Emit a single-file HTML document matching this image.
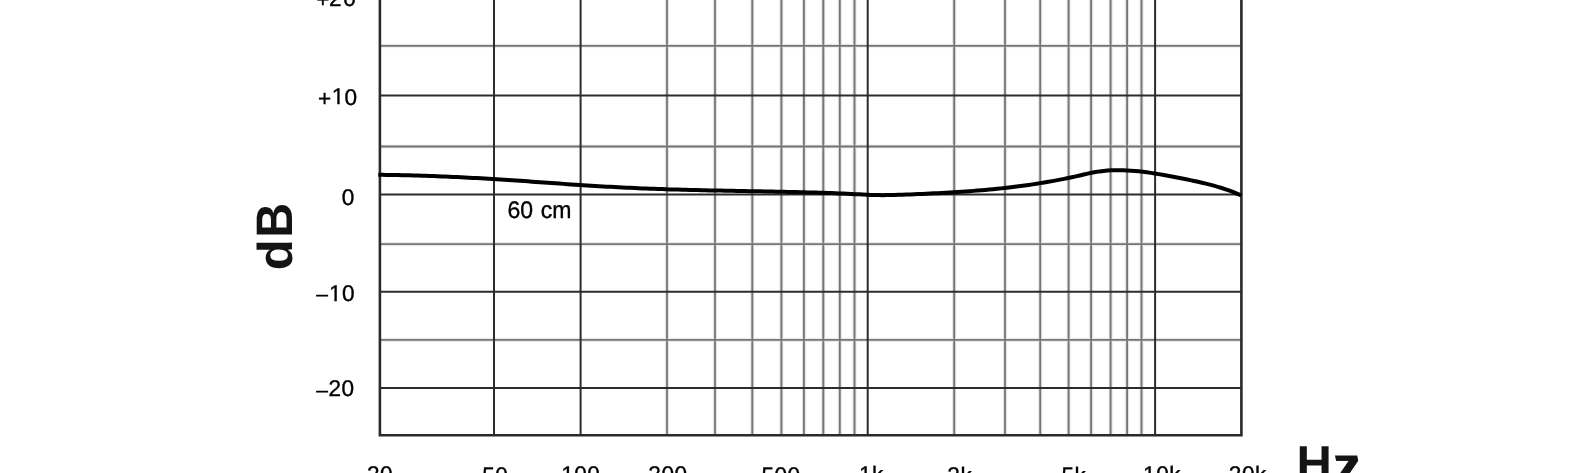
<!DOCTYPE html>
<html><head><meta charset="utf-8"><title>Frequency response</title><style>
html,body{margin:0;padding:0;background:#fff;width:1580px;height:473px;overflow:hidden}
svg{position:absolute;left:0;top:0;display:block}
text{font-family:"Liberation Sans",sans-serif;text-rendering:geometricPrecision}
</style></head><body>
<svg width="1580" height="473" viewBox="0 0 1580 473">
<defs><filter id="gs" x="-2%" y="-2%" width="104%" height="104%"><feOffset dx="0" dy="0"/></filter>
<clipPath id="c1"><path clip-rule="evenodd" d="M0 -20H1580V500H0Z M332.52 101.96H337.28V105.00H332.52Z M339.67 101.96H344.46V105.00H339.67Z"/></clipPath>
<clipPath id="c2"><path clip-rule="evenodd" d="M0 -20H1580V500H0Z M329.62 298.96H334.38V302.00H329.62Z M336.77 298.96H341.56V302.00H336.77Z"/></clipPath></defs>
<g fill="none">
<path d="M667.00 -10V435.30" stroke="#f5f5f5" stroke-width="4.6"/>
<path d="M667.00 -10V435.30" stroke="#ddd" stroke-width="3.4"/>
<path d="M715.00 -10V435.30" stroke="#f5f5f5" stroke-width="4.6"/>
<path d="M715.00 -10V435.30" stroke="#ddd" stroke-width="3.4"/>
<path d="M752.30 -10V435.30" stroke="#f5f5f5" stroke-width="4.6"/>
<path d="M752.30 -10V435.30" stroke="#ddd" stroke-width="3.4"/>
<path d="M781.40 -10V435.30" stroke="#f5f5f5" stroke-width="4.6"/>
<path d="M781.40 -10V435.30" stroke="#ddd" stroke-width="3.4"/>
<path d="M803.90 -10V435.30" stroke="#f5f5f5" stroke-width="4.6"/>
<path d="M803.90 -10V435.30" stroke="#ddd" stroke-width="3.4"/>
<path d="M823.30 -10V435.30" stroke="#f5f5f5" stroke-width="4.6"/>
<path d="M823.30 -10V435.30" stroke="#ddd" stroke-width="3.4"/>
<path d="M839.80 -10V435.30" stroke="#f5f5f5" stroke-width="4.6"/>
<path d="M839.80 -10V435.30" stroke="#ddd" stroke-width="3.4"/>
<path d="M854.50 -10V435.30" stroke="#f5f5f5" stroke-width="4.6"/>
<path d="M854.50 -10V435.30" stroke="#ddd" stroke-width="3.4"/>
<path d="M954.20 -10V435.30" stroke="#f5f5f5" stroke-width="4.6"/>
<path d="M954.20 -10V435.30" stroke="#ddd" stroke-width="3.4"/>
<path d="M1005.00 -10V435.30" stroke="#f5f5f5" stroke-width="4.6"/>
<path d="M1005.00 -10V435.30" stroke="#ddd" stroke-width="3.4"/>
<path d="M1040.20 -10V435.30" stroke="#f5f5f5" stroke-width="4.6"/>
<path d="M1040.20 -10V435.30" stroke="#ddd" stroke-width="3.4"/>
<path d="M1068.60 -10V435.30" stroke="#f5f5f5" stroke-width="4.6"/>
<path d="M1068.60 -10V435.30" stroke="#ddd" stroke-width="3.4"/>
<path d="M1091.10 -10V435.30" stroke="#f5f5f5" stroke-width="4.6"/>
<path d="M1091.10 -10V435.30" stroke="#ddd" stroke-width="3.4"/>
<path d="M1110.60 -10V435.30" stroke="#f5f5f5" stroke-width="4.6"/>
<path d="M1110.60 -10V435.30" stroke="#ddd" stroke-width="3.4"/>
<path d="M1127.10 -10V435.30" stroke="#f5f5f5" stroke-width="4.6"/>
<path d="M1127.10 -10V435.30" stroke="#ddd" stroke-width="3.4"/>
<path d="M1141.50 -10V435.30" stroke="#f5f5f5" stroke-width="4.6"/>
<path d="M1141.50 -10V435.30" stroke="#ddd" stroke-width="3.4"/>
<path d="M379.90 45.80H1241.40" stroke="#f6f6f6" stroke-width="4.8"/>
<path d="M379.90 45.80H1241.40" stroke="#e2e2e2" stroke-width="3.0"/>
<path d="M379.90 146.50H1241.40" stroke="#f6f6f6" stroke-width="4.8"/>
<path d="M379.90 146.50H1241.40" stroke="#e2e2e2" stroke-width="3.0"/>
<path d="M379.90 244.10H1241.40" stroke="#f6f6f6" stroke-width="4.8"/>
<path d="M379.90 244.10H1241.40" stroke="#e2e2e2" stroke-width="3.0"/>
<path d="M379.90 339.90H1241.40" stroke="#f6f6f6" stroke-width="4.8"/>
<path d="M379.90 339.90H1241.40" stroke="#e2e2e2" stroke-width="3.0"/>
<path d="M667.00 -10V435.30" stroke="#767676" stroke-width="1.80"/>
<path d="M715.00 -10V435.30" stroke="#767676" stroke-width="1.80"/>
<path d="M752.30 -10V435.30" stroke="#767676" stroke-width="1.80"/>
<path d="M781.40 -10V435.30" stroke="#767676" stroke-width="1.80"/>
<path d="M803.90 -10V435.30" stroke="#767676" stroke-width="1.80"/>
<path d="M823.30 -10V435.30" stroke="#767676" stroke-width="1.80"/>
<path d="M839.80 -10V435.30" stroke="#767676" stroke-width="1.80"/>
<path d="M854.50 -10V435.30" stroke="#767676" stroke-width="1.80"/>
<path d="M954.20 -10V435.30" stroke="#767676" stroke-width="1.80"/>
<path d="M1005.00 -10V435.30" stroke="#767676" stroke-width="1.80"/>
<path d="M1040.20 -10V435.30" stroke="#767676" stroke-width="1.80"/>
<path d="M1068.60 -10V435.30" stroke="#767676" stroke-width="1.80"/>
<path d="M1091.10 -10V435.30" stroke="#767676" stroke-width="1.80"/>
<path d="M1110.60 -10V435.30" stroke="#767676" stroke-width="1.80"/>
<path d="M1127.10 -10V435.30" stroke="#767676" stroke-width="1.80"/>
<path d="M1141.50 -10V435.30" stroke="#767676" stroke-width="1.80"/>
<path d="M379.90 45.80H1241.40" stroke="#767676" stroke-width="1.80"/>
<path d="M379.90 146.50H1241.40" stroke="#767676" stroke-width="1.80"/>
<path d="M379.90 244.10H1241.40" stroke="#767676" stroke-width="1.80"/>
<path d="M379.90 339.90H1241.40" stroke="#767676" stroke-width="1.80"/>
<path d="M494.00 -10V435.30" stroke="#2c2c2c" stroke-width="2.00"/>
<path d="M580.60 -10V435.30" stroke="#2c2c2c" stroke-width="2.00"/>
<path d="M867.70 -10V435.30" stroke="#2c2c2c" stroke-width="2.00"/>
<path d="M1155.10 -10V435.30" stroke="#2c2c2c" stroke-width="2.00"/>
<path d="M379.90 95.50H1241.40" stroke="#2c2c2c" stroke-width="2.00"/>
<path d="M379.90 194.40H1241.40" stroke="#2c2c2c" stroke-width="2.00"/>
<path d="M379.90 291.70H1241.40" stroke="#2c2c2c" stroke-width="2.00"/>
<path d="M379.90 388.00H1241.40" stroke="#2c2c2c" stroke-width="2.00"/>
<path d="M379.90 -10V435.30H1241.40V-10" stroke="#2a2a2a" stroke-width="2.60"/>
</g>
<path d="M378.3 174.80 382.2 174.85 386.2 174.90 390.1 174.96 394.1 175.03 398.0 175.10 401.9 175.19 405.9 175.28 409.8 175.37 413.8 175.48 417.7 175.59 421.7 175.71 425.6 175.84 429.5 175.97 433.5 176.11 437.4 176.26 441.4 176.41 445.3 176.57 449.2 176.74 453.2 176.92 457.1 177.10 461.1 177.29 465.0 177.48 468.9 177.68 472.9 177.89 476.8 178.10 480.8 178.32 484.7 178.54 488.7 178.78 492.6 179.01 496.5 179.26 500.5 179.51 504.4 179.76 508.4 180.02 512.3 180.28 516.2 180.55 520.2 180.82 524.1 181.09 528.1 181.37 532.0 181.65 535.9 181.93 539.9 182.21 543.8 182.49 547.8 182.77 551.7 183.05 555.6 183.33 559.6 183.60 563.5 183.88 567.5 184.15 571.4 184.42 575.4 184.69 579.3 184.95 583.2 185.21 587.2 185.47 591.1 185.72 595.1 185.96 599.0 186.20 602.9 186.43 606.9 186.65 610.8 186.87 614.8 187.08 618.7 187.29 622.6 187.48 626.6 187.67 630.5 187.86 634.5 188.04 638.4 188.21 642.4 188.38 646.3 188.54 650.2 188.69 654.2 188.84 658.1 188.98 662.1 189.12 666.0 189.25 669.9 189.38 673.9 189.50 677.8 189.61 681.8 189.72 685.7 189.83 689.6 189.93 693.6 190.03 697.5 190.12 701.5 190.21 705.4 190.30 709.4 190.38 713.3 190.46 717.2 190.54 721.2 190.62 725.1 190.70 729.1 190.77 733.0 190.84 736.9 190.92 740.9 190.99 744.8 191.06 748.8 191.13 752.7 191.20 756.6 191.27 760.6 191.34 764.5 191.42 768.5 191.49 772.4 191.57 776.4 191.65 780.3 191.73 784.2 191.81 788.2 191.90 792.1 191.99 796.1 192.08 800.0 192.18 803.9 192.28 807.9 192.38 811.8 192.49 815.8 192.60 819.7 192.72 823.6 192.84 827.6 192.97 831.5 193.11 835.5 193.25 839.4 193.41 843.3 193.57 847.3 193.75 851.2 193.94 855.2 194.14 859.1 194.35 863.1 194.55 867.0 194.73 870.9 194.89 874.9 195.01 878.8 195.10 882.8 195.14 886.7 195.12 890.6 195.07 894.6 194.98 898.5 194.87 902.5 194.73 906.4 194.57 910.3 194.41 914.3 194.24 918.2 194.07 922.2 193.90 926.1 193.71 930.1 193.53 934.0 193.33 937.9 193.13 941.9 192.92 945.8 192.70 949.8 192.48 953.7 192.24 957.6 191.99 961.6 191.73 965.5 191.46 969.5 191.18 973.4 190.88 977.3 190.57 981.3 190.25 985.2 189.91 989.2 189.55 993.1 189.17 997.1 188.78 1001.0 188.37 1004.9 187.95 1008.9 187.50 1012.8 187.03 1016.8 186.54 1020.7 186.03 1024.6 185.50 1028.6 184.95 1032.5 184.37 1036.5 183.77 1040.4 183.14 1044.3 182.49 1048.3 181.81 1052.2 181.11 1056.2 180.38 1060.1 179.62 1064.1 178.84 1068.0 178.03 1071.9 177.20 1075.9 176.34 1079.8 175.46 1083.8 174.55 1087.7 173.66 1091.6 172.81 1095.6 172.04 1099.5 171.40 1103.5 170.91 1107.4 170.57 1111.3 170.35 1115.3 170.23 1119.2 170.21 1123.2 170.28 1127.1 170.43 1131.0 170.67 1135.0 170.98 1138.9 171.36 1142.9 171.81 1146.8 172.31 1150.8 172.87 1154.7 173.47 1158.6 174.11 1162.6 174.79 1166.5 175.50 1170.5 176.23 1174.4 176.98 1178.3 177.75 1182.3 178.52 1186.2 179.30 1190.2 180.10 1194.1 180.92 1198.0 181.78 1202.0 182.68 1205.9 183.62 1209.9 184.62 1213.8 185.68 1217.8 186.82 1221.7 188.03 1225.6 189.32 1229.6 190.71 1233.5 192.21 1237.5 193.81 1241.4 195.52" fill="none" stroke="#000" stroke-width="4.00" stroke-linejoin="round"/>
<g fill="#000" stroke="#000" stroke-width="0.35" stroke-linejoin="round" filter="url(#gs)">
<text font-size="22.60"><tspan x="316.17" y="7.10">+</tspan><tspan x="328.94" y="5.60">2</tspan><tspan x="343.29" y="5.60">0</tspan></text>
<text clip-path="url(#c1)" font-size="22.60"><tspan x="318.07" y="105.50">+</tspan><tspan x="331.79" y="104.00">1</tspan><tspan x="344.49" y="104.60">0</tspan></text>
<text font-size="22.60"><tspan x="341.69" y="205.30">0</tspan></text>
<text clip-path="url(#c2)" font-size="22.60"><tspan x="316.30" y="301.17" font-size="21.00">–</tspan><tspan x="328.89" y="301.00">1</tspan><tspan x="341.89" y="301.20">0</tspan></text>
<text font-size="22.60"><tspan x="316.30" y="396.67" font-size="21.00">–</tspan><tspan x="328.54" y="395.50">2</tspan><tspan x="341.49" y="395.60">0</tspan></text>
<text font-size="24" transform="translate(508.4 218.1) scale(0.96 1)"><tspan x="-1.04" y="0">60</tspan><tspan x="33.74" y="0">cm</tspan></text>
<text font-size="22.60"><tspan x="367.04" y="482.25">2</tspan><tspan x="380.11" y="482.25">0</tspan></text>
<text font-size="22.60"><tspan x="482.27" y="483.05">5</tspan><tspan x="495.34" y="483.05">0</tspan></text>
<text font-size="22.60"><tspan x="561.19" y="482.05">1</tspan><tspan x="574.26" y="482.05">0</tspan><tspan x="587.33" y="482.05">0</tspan></text>
<text font-size="22.60"><tspan x="648.34" y="482.25">2</tspan><tspan x="661.41" y="482.25">0</tspan><tspan x="674.48" y="482.25">0</tspan></text>
<text font-size="22.60"><tspan x="761.47" y="483.05">5</tspan><tspan x="774.54" y="483.05">0</tspan><tspan x="787.61" y="483.05">0</tspan></text>
<text font-size="22.60"><tspan x="858.89" y="482.05">1</tspan><tspan x="871.96" y="482.05">k</tspan></text>
<text font-size="22.60"><tspan x="947.34" y="482.85">2</tspan><tspan x="960.41" y="482.85">k</tspan></text>
<text font-size="22.60"><tspan x="1061.47" y="482.65">5</tspan><tspan x="1074.54" y="482.65">k</tspan></text>
<text font-size="22.60"><tspan x="1143.09" y="482.15">1</tspan><tspan x="1156.16" y="482.15">0</tspan><tspan x="1169.23" y="482.15">k</tspan></text>
<text font-size="22.60"><tspan x="1228.84" y="482.05">2</tspan><tspan x="1241.91" y="482.05">0</tspan><tspan x="1254.98" y="482.05">k</tspan></text>
</g>
<g fill="#141414" font-weight="bold" filter="url(#gs)">
<text font-size="49" transform="translate(1296.62 480.0)">H</text>
<text font-size="49" transform="translate(1337.24 480.5) skewX(11.31) scale(1.139 0.967)" stroke="#141414" stroke-width="0.9">z</text>
<text font-size="49" transform="translate(291.8 270.27) rotate(-90) scale(1.04 1)">d</text>
<text font-size="51.3" transform="translate(291.9 237.63) rotate(-90) scale(0.94 1)">B</text>
</g>
</svg>
</body></html>
